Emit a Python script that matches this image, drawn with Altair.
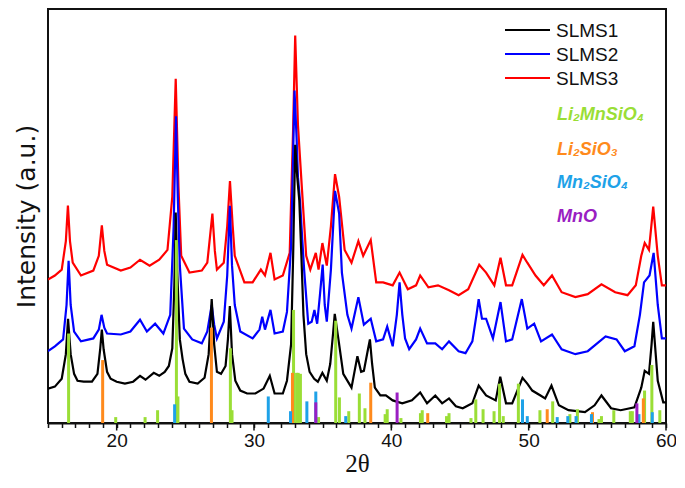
import altair as alt
import pandas as pd

# ---------------- data (intensity in arbitrary units) ----------------
samples = ["SLMS1", "SLMS2", "SLMS3"]
sample_colors = ["#000000", "#0000ff", "#ff0000"]

x_slms1 = [15.0, 15.5, 16.0, 16.3, 16.46, 16.65, 16.9, 17.15, 17.6, 18.2, 18.6, 18.8, 18.92, 19.05, 19.3,
           19.56, 20.0, 20.6, 21.2, 21.7, 22.1, 22.7, 23.1, 23.5, 23.8, 24.05, 24.2, 24.3, 24.42, 24.6,
           24.8, 25.0, 25.3, 25.9, 26.4, 26.7, 26.92, 27.1, 27.3, 27.6, 27.93, 28.1, 28.24, 28.4, 28.64,
           29.0, 29.5, 30.1, 30.7, 31.15, 31.5, 32.1, 32.4, 32.7, 32.85, 33.0, 33.15, 33.3, 33.45, 33.6,
           33.8, 34.05, 34.38, 34.65, 34.98, 35.3, 35.55, 35.75, 35.88, 36.17, 36.5, 37.1, 37.53, 37.8,
           38.0, 38.3, 38.44, 38.6, 38.8, 39.2, 39.6, 40.1, 40.8, 41.5, 42.1, 42.6, 43.2, 43.7, 44.2,
           44.7, 45.2, 45.9, 46.36, 46.9, 47.6, 47.93, 48.35, 48.8, 49.55, 49.9, 50.26, 50.86, 51.2,
           51.66, 52.2, 52.9, 54.1, 54.8, 55.3, 56.0, 56.7, 57.7, 58.2, 58.45, 58.76, 58.95, 59.07,
           59.25, 59.4, 59.8, 60.0]
y_slms1 = [35, 37, 45, 70, 106, 70, 50, 43, 42, 42, 50, 75, 95, 75, 52,
           45, 42, 40, 42, 48, 44, 51, 48, 52, 58, 76, 140, 214, 150, 85,
           65, 50, 42, 40, 46, 70, 126, 80, 52, 50, 58, 85, 119, 70, 43,
           33, 30, 30, 35, 48, 30, 30, 43, 80, 170, 283, 250, 226, 170, 110,
           70, 52, 45, 42, 51, 43, 60, 90, 111, 83, 50, 36, 68, 52,
           53, 75, 85, 60, 36, 28, 28, 23, 20, 23, 31, 20, 28, 20, 25,
           17, 15, 20, 38, 28, 23, 47, 20, 20, 46, 40, 33, 28, 25,
           38, 18, 13, 11, 18, 28, 15, 13, 16, 36, 53, 50, 80, 103,
           70, 43, 21, 21]

x_slms2 = [15.0, 15.5, 16.1, 16.35, 16.5, 16.65, 16.9, 17.4, 18.3, 18.7, 18.9, 19.1, 19.3, 20.3, 21.0,
           21.7, 22.2, 22.8, 23.4, 23.9, 24.15, 24.32, 24.45, 24.6, 24.9, 25.5, 26.2, 26.6, 26.92, 27.1,
           27.3, 27.8, 28.05, 28.24, 28.4, 28.6, 29.0, 29.9, 30.4, 30.6, 30.8, 31.2, 31.5, 32.1, 32.4,
           32.7, 32.95, 33.1, 33.2, 33.35, 33.5, 33.65, 33.95, 34.2, 34.4, 34.6, 34.8, 35.0, 35.15, 35.3,
           35.6, 35.9, 36.2, 36.4, 36.8, 37.1, 37.6, 38.0, 38.5, 38.9, 39.4, 39.7, 40.1, 40.4, 40.6,
           40.8, 41.0, 41.3, 41.8, 42.1, 42.6, 43.2, 43.7, 44.2, 44.9, 45.4, 45.9, 46.2, 46.36, 46.6,
           46.9, 47.4, 47.95, 48.35, 48.8, 49.5, 49.9, 50.4, 50.9, 51.7, 52.4, 53.4, 54.3, 55.6, 56.4,
           57.0, 57.7, 58.1, 58.4, 58.8, 59.1, 59.4, 59.7, 60.0]
y_slms2 = [73, 78, 85, 120, 165, 120, 93, 83, 86, 95, 110, 97, 91, 90, 93,
           105, 93, 101, 91, 110, 200, 312, 230, 160, 96, 85, 81, 93, 120, 100,
           86, 103, 150, 221, 160, 120, 93, 86, 95, 108, 95, 115, 91, 93, 113,
           180, 338, 290, 250, 226, 190, 156, 101, 103, 115, 101, 130, 161, 120, 103,
           156, 236, 213, 153, 110, 96, 128, 100, 106, 83, 85, 98, 78, 110, 143,
           110, 86, 75, 85, 96, 81, 81, 75, 83, 73, 71, 83, 110, 126, 106,
           106, 86, 123, 83, 85, 126, 96, 101, 83, 90, 75, 70, 73, 88, 85,
           73, 78, 110, 143, 150, 173, 120, 86, 86]

x_slms3 = [15.0, 15.5, 16.0, 16.3, 16.45, 16.6, 16.8, 17.4, 18.3, 18.7, 18.92, 19.1, 19.3, 20.3, 21.0,
           21.7, 22.4, 23.1, 23.7, 24.05, 24.3, 24.5, 24.7, 25.3, 26.2, 26.6, 26.97, 27.15, 27.3, 27.8,
           28.05, 28.25, 28.45, 28.6, 29.3, 29.9, 30.5, 30.8, 31.2, 31.5, 32.1, 32.6, 32.85, 33.0, 33.2,
           33.5, 33.8, 34.1, 34.5, 34.7, 34.98, 35.3, 35.6, 35.9, 36.2, 36.6, 37.1, 37.6, 37.95, 38.5,
           38.9, 39.4, 40.1, 40.6, 41.2, 41.8, 42.1, 42.7, 43.4, 44.2, 44.9, 45.6, 46.4, 46.9, 47.5,
           47.95, 48.35, 48.8, 49.55, 49.9, 50.5, 51.1, 51.7, 52.4, 53.4, 54.3, 55.3, 56.3, 57.2, 57.8,
           58.2, 58.45, 58.76, 59.07, 59.4, 59.7, 60.0]
y_slms3 = [146, 150, 156, 185, 221, 185, 163, 150, 155, 170, 201, 175, 161, 155, 158,
           166, 160, 166, 176, 230, 350, 240, 170, 153, 155, 163, 213, 175, 156, 163,
           200, 246, 200, 170, 143, 143, 156, 150, 173, 146, 150, 173, 300, 394, 303,
           236, 170, 156, 173, 156, 183, 160, 200, 253, 230, 176, 163, 185, 170, 186,
           143, 143, 140, 153, 136, 140, 150, 138, 140, 135, 130, 136, 161, 153, 140,
           168, 140, 140, 171, 163, 150, 140, 150, 133, 128, 131, 141, 133, 130, 140,
           170, 183, 176, 220, 170, 140, 140]

phases = ["Li₂MnSiO₄", "Li₂SiO₃", "Mn₂SiO₄", "MnO"]
phase_colors = ["#9ade36", "#ff8a1c", "#1ea2e8", "#9a1ec2"]

pos_li2mnsio4 = [16.5, 19.93, 22.07, 22.98, 24.35, 24.46, 28.28, 28.4, 32.88, 33.1, 33.22, 33.38, 34.7,
                 35.95, 36.22, 36.9, 37.67, 38.08, 39.55, 39.7, 40.7, 42.12, 42.25, 44.02, 44.2, 45.8,
                 46.15, 46.68, 47.48, 47.88, 48.15, 49.25, 50.82, 51.75, 53.0, 53.55, 55.12, 55.3, 56.2,
                 57.4, 57.55, 58.44, 58.97, 59.55]
h_li2mnsio4 = [91, 6, 6, 13, 186, 27, 76, 13, 115, 51, 51, 50, 6,
               104, 26, 12, 30, 15, 9, 14, 5, 10, 13, 7, 10, 5,
               24, 14, 12, 40, 7, 40, 13, 22, 9, 14, 4, 7, 13,
               12, 12, 33, 59, 13]
pos_li2sio3 = [18.98, 26.9, 32.8, 38.5, 42.65, 51.35, 54.65, 58.35]
h_li2sio3 = [64, 97, 51, 41, 10, 14, 11, 25]
pos_mn2sio4 = [24.22, 31.04, 32.66, 33.85, 34.5, 36.68, 49.55, 49.9, 52.08, 52.85, 53.45, 54.57, 58.03, 59.0]
h_mn2sio4 = [19, 27, 12, 22, 32, 7, 24, 7, 6, 7, 7, 9, 9, 11]
pos_mno = [34.5, 40.42, 57.88]
h_mno = [21, 31, 20]

major_ticks = [20, 30, 40, 50, 60]
minor_ticks = list(range(15, 61))

# ---------------- tables ----------------
rows = []
# drawing order: SLMS3 first, SLMS1 on top
for name, xs, ys in [("SLMS3", x_slms3, y_slms3), ("SLMS2", x_slms2, y_slms2), ("SLMS1", x_slms1, y_slms1)]:
    for xv, yv in zip(xs, ys):
        rows.append({"two_theta": xv, "intensity": yv, "sample": name})
df_lines = pd.DataFrame(rows)

srows = []
for name, xs, hs in zip(phases, [pos_li2mnsio4, pos_li2sio3, pos_mn2sio4, pos_mno],
                        [h_li2mnsio4, h_li2sio3, h_mn2sio4, h_mno]):
    for xv, hv in zip(xs, hs):
        srows.append({"two_theta": xv, "intensity": hv, "phase": name})
df_sticks = pd.DataFrame(srows)

W, H = 618, 414
INK = "#111111"

xscale = alt.Scale(domain=[15, 60], nice=False, zero=False)
yscale = alt.Scale(domain=[0, 421], nice=False, zero=False)

x_axis = alt.Axis(
    values=minor_ticks,
    labelExpr="datum.value % 10 === 0 ? datum.label : ''",
    labelOverlap=False, labelFlush=False,
    tickSize=4.5, tickWidth=1.5, tickColor=INK,
    labelFontSize=19, labelFont="Liberation Sans", labelColor=INK, labelPadding=4,
    domain=True, domainColor=INK, domainWidth=2, grid=False,
    title="2θ", titleFont="Liberation Serif", titleFontSize=25, titleFontWeight="normal",
    titleColor=INK, titlePadding=1,
)
y_axis = alt.Axis(
    labels=False, ticks=False, domain=False, grid=False,
    title="Intensity (a.u.)", titleFont="DejaVu Sans", titleFontSize=25, titleFontWeight="normal",
    titleColor=INK, titlePadding=9,
)


def xenc(field):
    return alt.X(field, scale=xscale, axis=x_axis)


def yenc(field):
    return alt.Y(field, scale=yscale, axis=y_axis)


lines = alt.Chart(df_lines).mark_line(strokeWidth=2.2, clip=True).encode(
    x=xenc("two_theta:Q"),
    y=yenc("intensity:Q"),
    color=alt.Color("sample:N", scale=alt.Scale(domain=samples, range=sample_colors), legend=None),
)

sticks = alt.Chart(df_sticks).mark_rule(strokeWidth=3).encode(
    x=xenc("two_theta:Q"),
    y=yenc("intensity:Q"),
    y2=alt.datum(0),
    color=alt.Color("phase:N", scale=alt.Scale(domain=phases, range=phase_colors), legend=None),
)

major = alt.Chart(pd.DataFrame({"two_theta": major_ticks})).mark_rule(
    strokeWidth=1.5, color=INK).encode(
    x=xenc("two_theta:Q"),
    y=alt.value(H),
    y2=alt.value(H + 7.5),
)

# hand-made legend for the three samples (top right, inside the frame)
LX = W - 161
legend_y = [21, 45, 69]
legend_layers = []
for name, col, yy in zip(samples, sample_colors, legend_y):
    df_l = pd.DataFrame({"t": [name]})
    legend_layers.append(
        alt.Chart(df_l).mark_rule(strokeWidth=2, color=col).encode(
            x=alt.value(LX), x2=alt.value(LX + 45), y=alt.value(yy)
        )
    )
    legend_layers.append(
        alt.Chart(df_l).mark_text(
            align="left", baseline="middle", fontSize=19, font="Liberation Sans", color=INK, dy=1,
        ).encode(x=alt.value(LX + 51), y=alt.value(yy), text="t:N")
    )

label_y = [106, 141, 174, 208]
texts = []
for name, col, yy in zip(phases, phase_colors, label_y):
    texts.append(
        alt.Chart(pd.DataFrame({"t": [name]})).mark_text(
            align="left", baseline="middle", fontSize=18, fontWeight="bold",
            fontStyle="italic", font="Liberation Sans", color=col,
        ).encode(x=alt.value(LX + 52), y=alt.value(yy), text="t:N")
    )

chart = alt.layer(lines, sticks, major, *legend_layers, *texts).resolve_scale(
    color="independent"
).properties(
    width=W, height=H,
    autosize=alt.AutoSizeParams(type="none"),
    padding={"left": 40, "top": 1, "right": 10, "bottom": 57},
).configure(background="white").configure_view(stroke=INK, strokeWidth=2)

chart.save("out.html", embed_options={"renderer": "svg", "actions": False})
